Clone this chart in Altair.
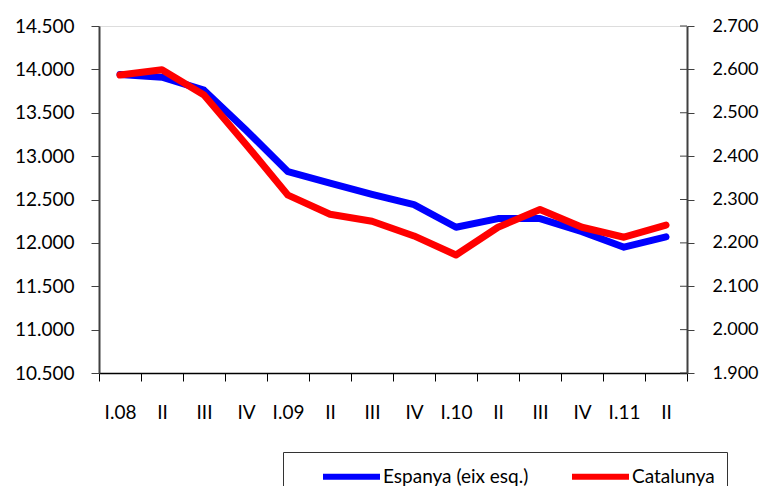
import json
import altair as alt
import pandas as pd

quarters = ["I.08", "II", "III", "IV", "I.09", "II", "III", "IV",
            "I.10", "II", "III", "IV", "I.11", "II"]
espanya = [13940, 13910, 13760, 13300, 12820, 12690, 12560, 12440,
           12180, 12280, 12280, 12130, 11950, 12070]
catalunya = [2587, 2599, 2541, 2427, 2310, 2266, 2250, 2216,
             2172, 2236, 2277, 2236, 2213, 2241]
series_names = ["Espanya (eix esq.)", "Catalunya"]
left_ticks = list(range(10500, 14501, 500))
right_ticks = list(range(1900, 2701, 100))

rows = []
for i, (e, c) in enumerate(zip(espanya, catalunya)):
    rows.append({"idx": i, "serie": series_names[0], "valor": e})
    rows.append({"idx": i, "serie": series_names[1], "valor": c})
df = pd.DataFrame(rows)
ticks_df = pd.DataFrame({"valor": right_ticks})

W, H = 588, 347
FONT = "Lato"
label_expr_x = json.dumps(quarters) + "[datum.value]"
num_expr = "replace(format(datum.value, ',.0f'), ',', '.')"

color = alt.Color(
    "serie:N",
    scale=alt.Scale(domain=series_names, range=["#0000FF", "#FF0000"]),
    legend=alt.Legend(
        title=None, orient="none", direction="horizontal",
        legendX=184, legendY=426,
        symbolType="M-3,0H3", symbolSize=361, symbolStrokeWidth=6,
        symbolOffset=44, labelOffset=19, columnPadding=15,
        padding=12, strokeColor="#333333",
        labelFont=FONT, labelFontSize=19, labelColor="black", labelLimit=400,
    ),
)

x = alt.X(
    "idx:O",
    bandPosition=0.5,
    scale=alt.Scale(type="band", paddingInner=0, paddingOuter=0),
    axis=alt.Axis(
        title=None, labelExpr=label_expr_x, labelAngle=0, tickBand="extent",
        tickSize=8, labelPadding=22, domainColor="black", tickColor="black",
        domainWidth=1.5, labelFont=FONT, labelFontSize=19, labelColor="black",
    ),
)

left = alt.Chart(df).transform_filter(
    alt.datum.serie == series_names[0]
).mark_line(strokeWidth=7, strokeCap="round", strokeJoin="round").encode(
    x=x,
    y=alt.Y(
        "valor:Q",
        scale=alt.Scale(domain=[10500, 14500], nice=False, zero=False),
        axis=alt.Axis(
            title=None, orient="left", values=left_ticks, labelExpr=num_expr,
            tickSize=8, labelPadding=17, domainColor="#404040", tickColor="#404040",
            domainWidth=2, grid=False, labelFont=FONT, labelFontSize=19,
            labelColor="black",
        ),
    ),
    color=color,
)

right_y = alt.Y(
    "valor:Q",
    scale=alt.Scale(domain=[1900, 2700], nice=False, zero=False),
    axis=alt.Axis(
        title=None, orient="right", values=right_ticks, labelExpr=num_expr,
        tickSize=7, labelPadding=18, domainColor="#404040", tickColor="#404040",
        domainWidth=2, grid=False, labelFont=FONT, labelFontSize=18,
        labelColor="black",
    ),
)

right_line = alt.Chart(df).transform_filter(
    alt.datum.serie == series_names[1]
).mark_line(strokeWidth=7, strokeCap="round", strokeJoin="round").encode(
    x=x, y=right_y, color=color,
)

# inner half of the crossing ticks on the right axis
right_inner_ticks = alt.Chart(ticks_df).mark_rule(color="#404040", strokeWidth=1).encode(
    y=right_y, x=alt.value(W - 7), x2=alt.value(W),
)

right = alt.layer(right_line, right_inner_ticks)

chart = alt.layer(left, right).resolve_scale(y="independent").properties(
    width=W, height=H,
    autosize=alt.AutoSizeParams(type="none"),
    padding={"left": 91, "top": 18, "right": 73, "bottom": 113},
).configure_view(stroke="#888888", strokeWidth=2).configure(background="white")

chart.save("out.html", embed_options={"renderer": "svg", "actions": False})
